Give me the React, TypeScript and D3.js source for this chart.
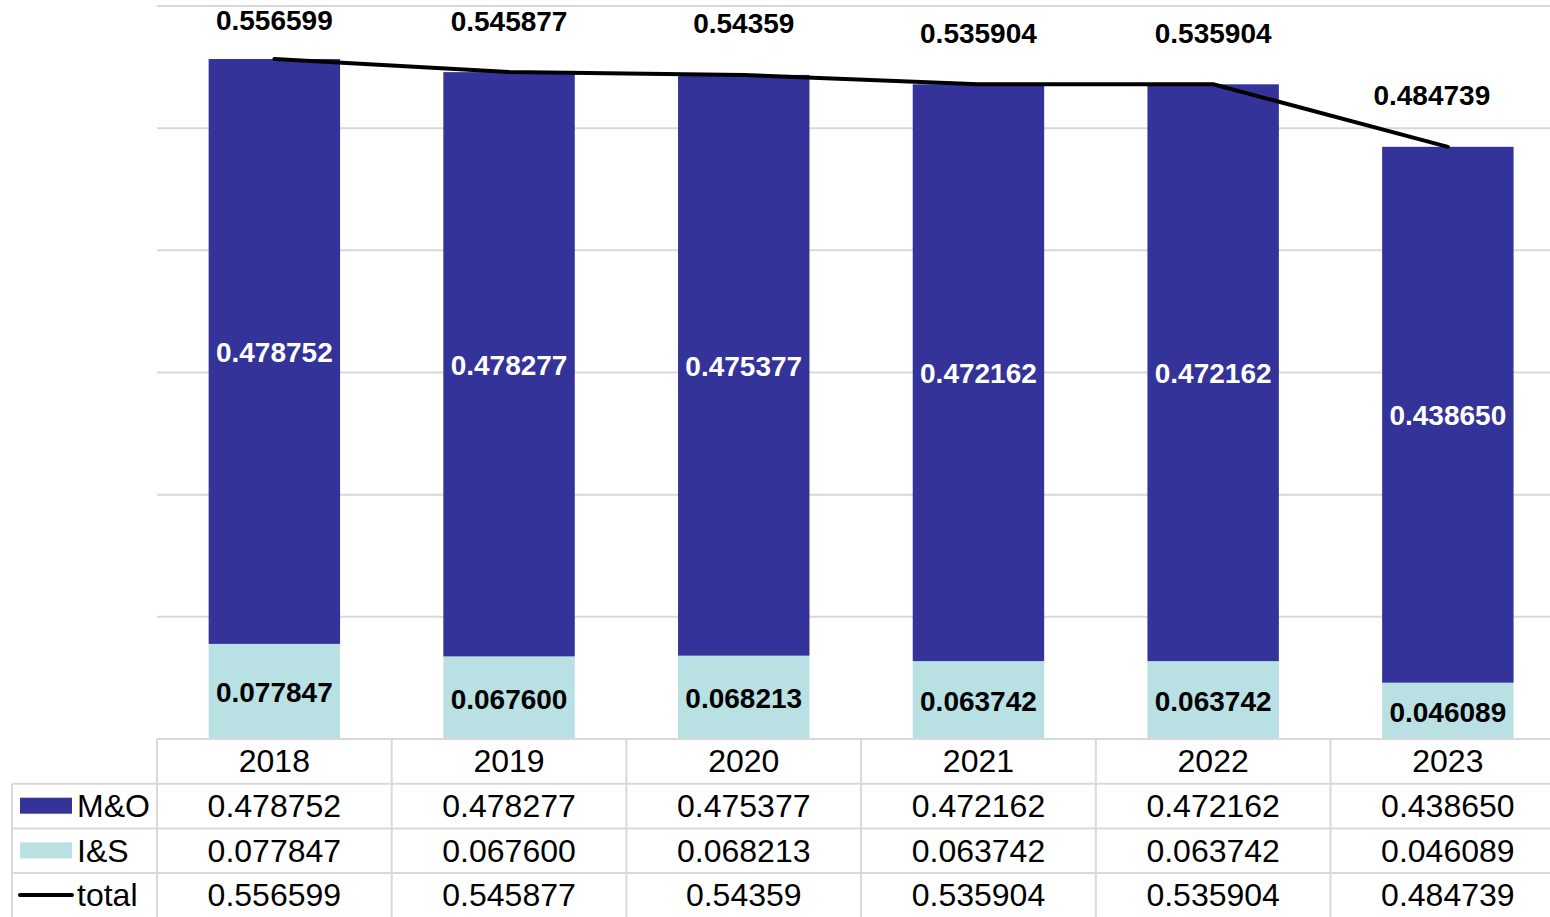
import React, { useEffect, useRef } from "react";
import * as d3 from "d3";

const years = ["2018", "2019", "2020", "2021", "2022", "2023"];
const mo = [0.478752, 0.478277, 0.475377, 0.472162, 0.472162, 0.43865];
const is = [0.077847, 0.0676, 0.068213, 0.063742, 0.063742, 0.046089];
const total = [0.556599, 0.545877, 0.54359, 0.535904, 0.535904, 0.484739];
const moLabels = ["0.478752", "0.478277", "0.475377", "0.472162", "0.472162", "0.438650"];
const isLabels = ["0.077847", "0.067600", "0.068213", "0.063742", "0.063742", "0.046089"];
const totalLabels = ["0.556599", "0.545877", "0.54359", "0.535904", "0.535904", "0.484739"];
const yTicks = [0, 0.1, 0.2, 0.3, 0.4, 0.5, 0.6];

const W = 1550;
const H = 917;
const left = 157;
const colW = 234.7;
const top = 6;
const base = 739;
const rowH = 44.7;
const legendX = 12;
const font = "'Liberation Sans', Arial, sans-serif";
const moColor = "#343399";
const isColor = "#b9e0e3";
const gridColor = "#d9d9d9";

const App = () => {
  const ref = useRef<SVGSVGElement>(null);

  useEffect(() => {
    document.body.style.margin = "0";
    const svg = d3.select(ref.current);
    svg.selectAll("*").remove();

    const x = d3
      .scaleBand()
      .domain(years)
      .range([left, left + colW * years.length])
      .paddingInner(0.44)
      .paddingOuter(0.22);
    const y = d3.scaleLinear().domain([0, 0.6]).range([base, top]);
    const cx = (i: number) => (x(years[i]) as number) + x.bandwidth() / 2;

    // gridlines
    svg
      .append("g")
      .selectAll("line")
      .data(yTicks.slice(1))
      .join("line")
      .attr("x1", left)
      .attr("x2", W)
      .attr("y1", (d) => y(d))
      .attr("y2", (d) => y(d))
      .attr("stroke", gridColor)
      .attr("stroke-width", 2);

    // stacked bars
    const bars = svg.append("g");
    bars
      .selectAll(".is")
      .data(years)
      .join("rect")
      .attr("x", (d) => x(d) as number)
      .attr("width", x.bandwidth())
      .attr("y", (d, i) => y(is[i]))
      .attr("height", (d, i) => y(0) - y(is[i]))
      .attr("fill", isColor);
    bars
      .selectAll(".mo")
      .data(years)
      .join("rect")
      .attr("x", (d) => x(d) as number)
      .attr("width", x.bandwidth())
      .attr("y", (d, i) => y(is[i] + mo[i]))
      .attr("height", (d, i) => y(is[i]) - y(is[i] + mo[i]))
      .attr("fill", moColor);

    // segment labels
    const labels = svg
      .append("g")
      .attr("font-family", font)
      .attr("font-weight", "bold")
      .attr("font-size", 28)
      .attr("text-anchor", "middle")
      .attr("dominant-baseline", "central");
    labels
      .selectAll(".ml")
      .data(years)
      .join("text")
      .attr("x", (d, i) => cx(i))
      .attr("y", (d, i) => (y(is[i]) + y(is[i] + mo[i])) / 2 + 1)
      .attr("fill", "#ffffff")
      .text((d, i) => moLabels[i]);
    labels
      .selectAll(".il")
      .data(years)
      .join("text")
      .attr("x", (d, i) => cx(i))
      .attr("y", (d, i) => (y(0) + y(is[i])) / 2 + 1.5)
      .attr("fill", "#000000")
      .text((d, i) => isLabels[i]);

    // total line
    const line = d3
      .line<number>()
      .x((d, i) => cx(i))
      .y((d) => y(d));
    svg
      .append("path")
      .datum(total)
      .attr("d", line)
      .attr("fill", "none")
      .attr("stroke", "#000")
      .attr("stroke-width", 4)
      .attr("stroke-linecap", "round")
      .attr("stroke-linejoin", "round");
    // last label is nudged left as in the original
    labels
      .selectAll(".tl")
      .data(years)
      .join("text")
      .attr("x", (d, i) => cx(i) - (i === years.length - 1 ? 16 : 0))
      .attr("y", (d, i) => Math.max(20, y(total[i]) - 51))
      .attr("fill", "#000000")
      .text((d, i) => totalLabels[i]);

    // data table
    const table = svg.append("g");
    const rowY = (r: number) => base + rowH * r;
    table
      .append("line")
      .attr("x1", left)
      .attr("x2", W)
      .attr("y1", base)
      .attr("y2", base)
      .attr("stroke", gridColor)
      .attr("stroke-width", 2);
    table
      .selectAll(".hl")
      .data([1, 2, 3])
      .join("line")
      .attr("x1", legendX)
      .attr("x2", W)
      .attr("y1", (d) => rowY(d))
      .attr("y2", (d) => rowY(d))
      .attr("stroke", gridColor)
      .attr("stroke-width", 2);
    table
      .selectAll(".vl")
      .data(d3.range(years.length))
      .join("line")
      .attr("x1", (d) => left + colW * d)
      .attr("x2", (d) => left + colW * d)
      .attr("y1", base)
      .attr("y2", H)
      .attr("stroke", gridColor)
      .attr("stroke-width", 2);
    table
      .append("line")
      .attr("x1", legendX)
      .attr("x2", legendX)
      .attr("y1", rowY(1))
      .attr("y2", H)
      .attr("stroke", gridColor)
      .attr("stroke-width", 2);

    const rows = [years, moLabels, isLabels, totalLabels];
    const tt = table
      .append("g")
      .attr("font-family", font)
      .attr("font-size", 32)
      .attr("text-anchor", "middle")
      .attr("dominant-baseline", "central")
      .attr("fill", "#000");
    rows.forEach((row, r) => {
      tt.selectAll(`.r${r}`)
        .data(row)
        .join("text")
        .attr("x", (d, i) => cx(i))
        .attr("y", rowY(r) + rowH / 2)
        .text((d) => d);
    });

    // legend keys
    const leg = table.append("g");
    leg
      .append("rect")
      .attr("x", 20)
      .attr("y", rowY(1) + 14)
      .attr("width", 52)
      .attr("height", 16)
      .attr("fill", moColor);
    leg
      .append("rect")
      .attr("x", 20)
      .attr("y", rowY(2) + 14)
      .attr("width", 52)
      .attr("height", 16)
      .attr("fill", isColor);
    leg
      .append("line")
      .attr("x1", 20)
      .attr("x2", 72)
      .attr("y1", rowY(3) + 22)
      .attr("y2", rowY(3) + 22)
      .attr("stroke", "#000")
      .attr("stroke-width", 4)
      .attr("stroke-linecap", "round");
    leg
      .selectAll("text")
      .data(["M&O", "I&S", "total"])
      .join("text")
      .attr("x", 77)
      .attr("y", (d, i) => rowY(i + 1) + rowH / 2)
      .attr("dominant-baseline", "central")
      .attr("font-family", font)
      .attr("font-size", 32)
      .attr("fill", "#000")
      .text((d) => d);
  }, []);

  return (
    <div style={{ position: "absolute", left: 0, top: 0 }}>
      <svg ref={ref} width={W} height={H} style={{ display: "block", background: "#fff" }} />
    </div>
  );
};

export default App;
